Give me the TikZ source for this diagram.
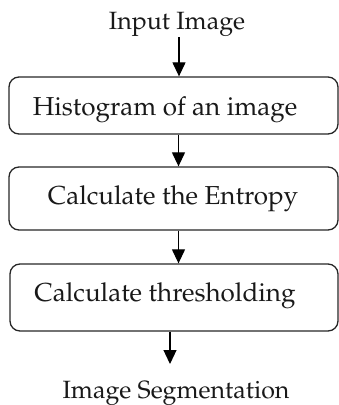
\documentclass[tikz,border=0pt]{standalone}
\usepackage[T1]{fontenc}
\usepackage{mathpazo}
\usetikzlibrary{arrows.meta}
\begin{document}
\begin{tikzpicture}[x=1pt,y=-1pt,
  boxstyle/.style={draw=black!85, line width=1.3pt, rounded corners=10pt, inner sep=0pt},
  txt/.style={inner sep=0pt, anchor=base, font=\fontsize{26}{30}\selectfont, text=black!90},
  smalltxt/.style={txt, font=\fontsize{25}{30}\selectfont},
  arr/.style={line width=1.2pt, -{Triangle[length=14pt,width=13pt]}}]
\useasboundingbox (0,0) rectangle (339,405);
% boxes
\node[boxstyle, minimum width=329pt, minimum height=57pt] (b1) at (173.5,105.5) {};
\node[boxstyle, minimum width=329pt, minimum height=63pt] (b2) at (173.5,198.5) {};
\node[boxstyle, minimum width=328pt, minimum height=67pt] (b3) at (174,297.5) {};
% texts
\node[smalltxt] (in) at (177,29) {Input Image};
\node[txt] (t1) at (165,115) {Histogram of an image};
\node[txt] (t2) at (173,204) {Calculate the Entropy};
\node[txt] (t3) at (165,301.5) {Calculate thresholding};
\node[smalltxt] (out) at (176,398) {Image Segmentation};
% arrows
\coordinate (a0) at (179,37);
\draw[arr] (a0) -- (a0 |- b1.north);
\coordinate (a1) at (178.5,0);
\draw[arr] (a1 |- b1.south) -- (a1 |- b2.north);
\draw[arr] (a1 |- b2.south) -- (a1 |- b3.north);
\coordinate (a3) at (170,364);
\draw[arr] (a3 |- b3.south) -- (a3);
\end{tikzpicture}
\end{document}
